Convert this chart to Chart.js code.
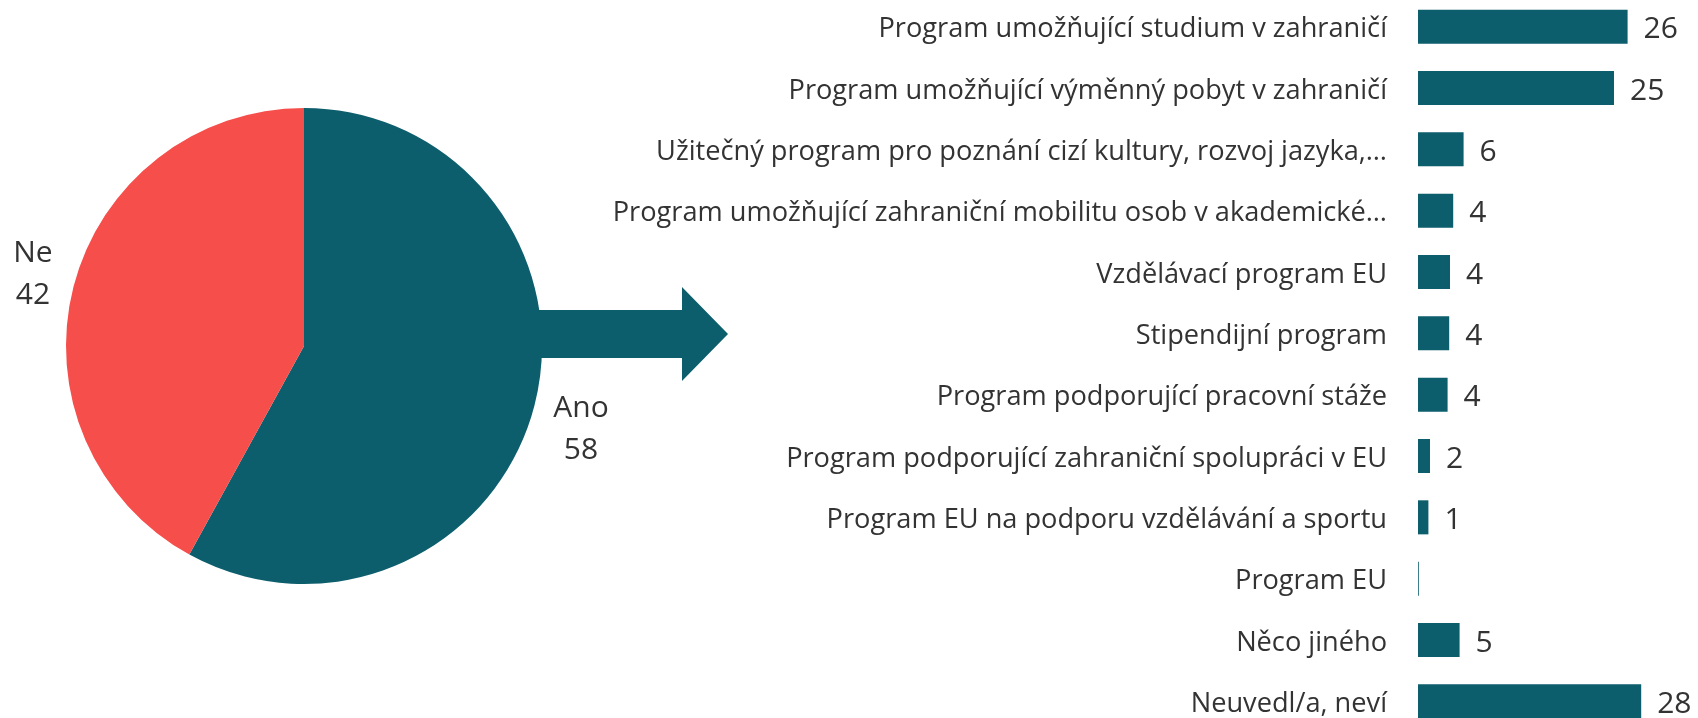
<!DOCTYPE html>
<html>
<head>
<meta charset="utf-8">
<script src="https://cdn.jsdelivr.net/npm/chart.js@4.4.1/dist/chart.umd.min.js"></script>
<style>
  html, body { margin: 0; padding: 0; background: #fff; overflow: hidden; }
  body { width: 1698px; height: 718px; position: relative; }
  #pieChart { position: absolute; left: 0; top: 0; }
  #barChart { position: absolute; left: 560px; top: -4px; }
  #arrow { position: absolute; left: 0; top: 0; }
</style>
</head>
<body>
<canvas id="pieChart" width="620" height="718"></canvas>
<svg id="arrow" width="740" height="718">
  <polygon points="530,310 682,310 682,287 728,334 682,381 682,358 530,358" fill="#0d5e6d"/>
</svg>
<canvas id="barChart" width="1138" height="736"></canvas>
<script>
const TEAL = '#0d5e6d';
const RED = '#f54e4b';
const TEXT = '#333333';
const FONT = "'Segoe UI', 'Open Sans', sans-serif";

const pieLabels = ['Ano', 'Ne'];
const pieValues = [58, 42];

const barLabels = [
    'Program umožňující studium v zahraničí',
    'Program umožňující výměnný pobyt v zahraničí',
    'Užitečný program pro poznání cizí kultury, rozvoj jazyka,…',
    'Program umožňující zahraniční mobilitu osob v akademické…',
    'Vzdělávací program EU',
    'Stipendijní program',
    'Program podporující pracovní stáže',
    'Program podporující zahraniční spolupráci v EU',
    'Program EU na podporu vzdělávání a sportu',
    'Program EU',
    'Něco jiného',
    'Neuvedl/a, neví'
];
const barValues = [26.2, 24.5, 5.7, 4.4, 4.0, 3.9, 3.7, 1.5, 1.3, 0.1, 5.2, 27.9];

// pie labels outside the slices
const pieLabelPlugin = {
    id: 'pieLabels',
    afterDatasetsDraw(chart) {
        const ctx = chart.ctx;
        const meta = chart.getDatasetMeta(0);
        ctx.save();
        ctx.fillStyle = TEXT;
        ctx.font = '30px ' + FONT;
        ctx.textAlign = 'center';
        ctx.textBaseline = 'middle';
        meta.data.forEach((arc, i) => {
            const mid = (arc.startAngle + arc.endAngle) / 2;
            const d = arc.outerRadius + 48;
            const right = Math.cos(mid) > 0;
            const x = arc.x + Math.cos(mid) * d + (right ? 0 : 6);
            const y = arc.y + Math.sin(mid) * d + (right ? 12 : 0);
            ctx.fillText(pieLabels[i], x, y - 21);
            ctx.fillText(String(pieValues[i]), x, y + 21);
        });
        ctx.restore();
    }
};

new Chart(document.getElementById('pieChart').getContext('2d'), {
    type: 'pie',
    data: {
        labels: pieLabels,
        datasets: [{
            data: pieValues,
            backgroundColor: [TEAL, RED],
            borderWidth: 0
        }]
    },
    options: {
        responsive: false,
        animation: false,
        layout: { padding: { left: 66, right: 78, top: 108, bottom: 134 } },
        plugins: { legend: { display: false }, tooltip: { enabled: false } }
    },
    plugins: [pieLabelPlugin]
});

// category names left of the bars, values at the bar ends
const barTextPlugin = {
    id: 'barText',
    afterDatasetsDraw(chart) {
        const ctx = chart.ctx;
        const meta = chart.getDatasetMeta(0);
        const left = chart.chartArea.left;
        ctx.save();
        ctx.fillStyle = TEXT;
        ctx.textBaseline = 'middle';
        meta.data.forEach((bar, i) => {
            ctx.font = '27.2px ' + FONT;
            ctx.textAlign = 'right';
            ctx.fillText(barLabels[i], left - 31, bar.y + 3);
            const v = Math.round(barValues[i]);
            if (v === 0) return;
            ctx.font = '30px ' + FONT;
            ctx.textAlign = 'left';
            ctx.fillText(String(v), bar.x + 16, bar.y + 3);
        });
        ctx.restore();
    }
};

new Chart(document.getElementById('barChart').getContext('2d'), {
    type: 'bar',
    data: {
        labels: barLabels,
        datasets: [{
            data: barValues,
            backgroundColor: TEAL,
            borderWidth: 0,
            barPercentage: 0.555,
            categoryPercentage: 1
        }]
    },
    options: {
        indexAxis: 'y',
        responsive: false,
        animation: false,
        layout: { padding: { left: 858, right: 0, top: 0, bottom: 0 } },
        plugins: { legend: { display: false }, tooltip: { enabled: false } },
        scales: {
            x: { display: false, min: 0, max: 35 },
            y: { display: false }
        }
    },
    plugins: [barTextPlugin]
});
</script>
</body>
</html>
